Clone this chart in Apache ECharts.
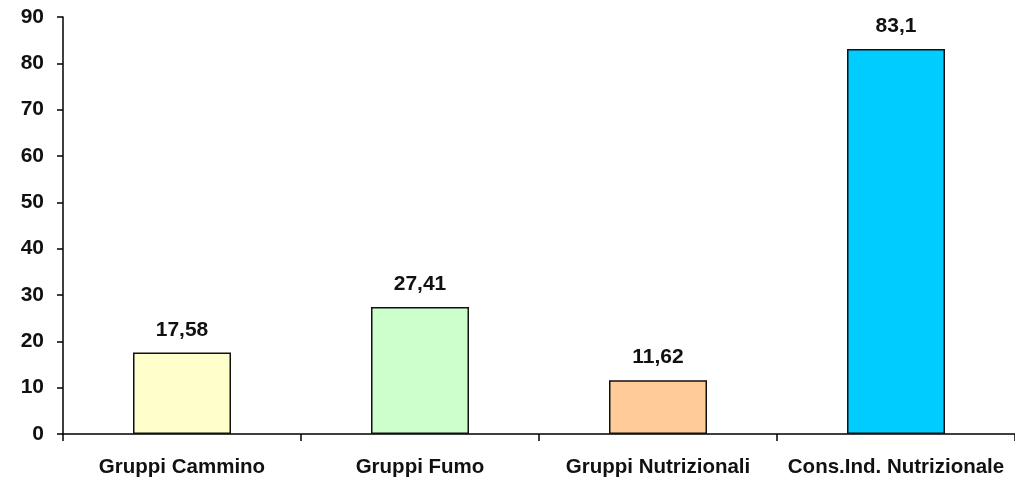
<!DOCTYPE html>
<html>
<head>
<meta charset="utf-8">
<script src="https://cdn.jsdelivr.net/npm/echarts@6/dist/echarts.min.js"></script>
<style>
  html, body { margin: 0; padding: 0; background: #fff; }
  #chart { width: 1015px; height: 482px; }
</style>
</head>
<body>
<div id="chart"></div>
<script>
// Partecipanti per tipo di intervento
const categories = ['Gruppi Cammino', 'Gruppi Fumo', 'Gruppi Nutrizionali', 'Cons.Ind. Nutrizionale'];
const values = [17.58, 27.41, 11.62, 83.1];
const barColors = ['#FFFFCC', '#CCFFCC', '#FFCC99', '#00CCFF'];
const yTicks = [0, 10, 20, 30, 40, 50, 60, 70, 80, 90];

const font = 'Liberation Sans, Arial, sans-serif';
const chart = echarts.init(document.getElementById('chart'));

chart.setOption({
  animation: false,
  grid: { left: 63, right: 0, top: 17, bottom: 48, containLabel: false },
  xAxis: {
    type: 'category',
    data: categories,
    axisLine: { lineStyle: { color: '#000', width: 1.5 } },
    axisTick: {
      show: true, length: 7, alignWithLabel: false,
      // no tick mark on the right end of the axis
      interval: (i) => i < categories.length,
      lineStyle: { color: '#000', width: 1.5 }
    },
    axisLabel: {
      color: '#111', fontFamily: font, fontWeight: 'bold', fontSize: 20.5, margin: 23, interval: 0
    },
    splitLine: { show: false }
  },
  yAxis: {
    type: 'value',
    min: yTicks[0],
    max: yTicks[yTicks.length - 1],
    interval: 10,
    axisLine: { show: true, lineStyle: { color: '#000', width: 1.5 } },
    axisTick: { show: true, length: 6, lineStyle: { color: '#000', width: 1.5 } },
    axisLabel: {
      color: '#111', fontFamily: font, fontWeight: 'bold', fontSize: 21, margin: 19
    },
    splitLine: { show: false }
  },
  series: [{
    type: 'bar',
    barWidth: 98,
    data: values.map((v, i) => ({
      value: v,
      itemStyle: { color: barColors[i], borderColor: '#111', borderWidth: 1.5 }
    })),
    label: {
      show: true,
      position: 'top',
      distance: 12,
      color: '#111',
      fontFamily: font,
      fontWeight: 'bold',
      fontSize: 21,
      formatter: p => String(p.value).replace('.', ',')
    }
  }]
});
</script>
</body>
</html>
